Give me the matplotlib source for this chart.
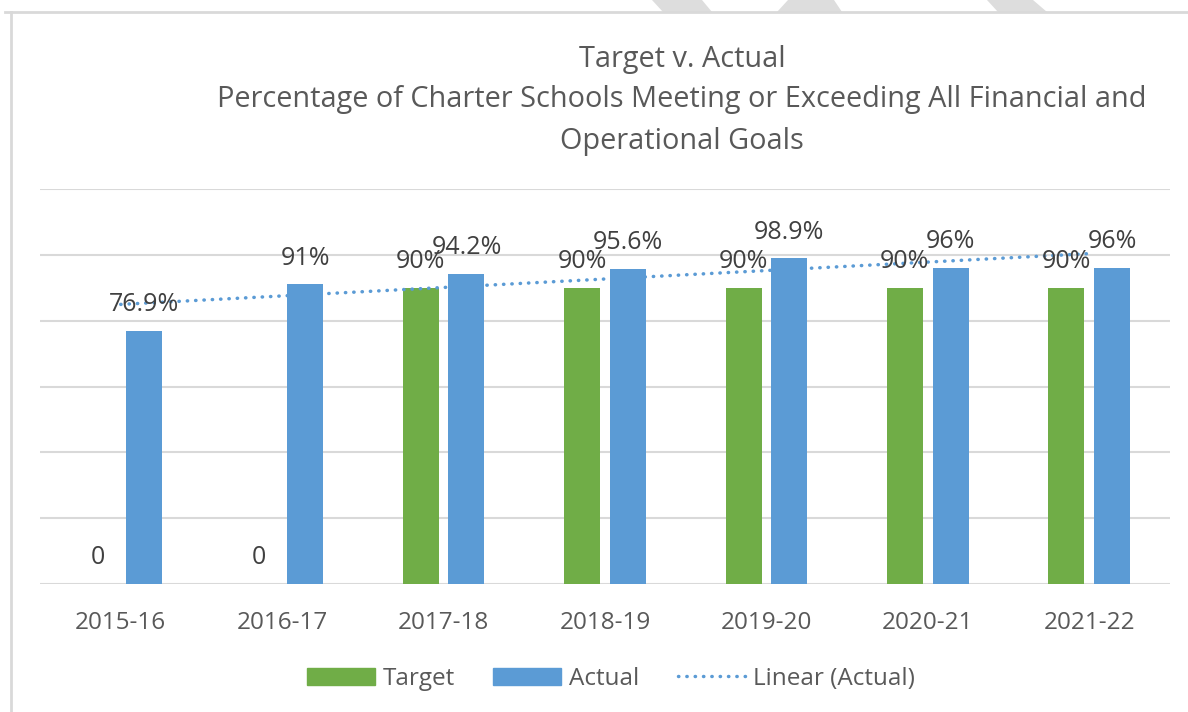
import numpy as np
import matplotlib.pyplot as plt
from matplotlib.patches import Patch, Polygon
from matplotlib.lines import Line2D

# chart data
years = ["2015-16", "2016-17", "2017-18", "2018-19", "2019-20", "2020-21", "2021-22"]
target = [0, 0, 90, 90, 90, 90, 90]
actual = [76.9, 91, 94.2, 95.6, 98.9, 96, 96]

GREEN = "#70AD47"
BLUE = "#5B9BD5"
GRID = "#D9D9D9"
TEXT = "#595959"
LABEL = "#404040"
DOTS = (0, (0.1, 2.3))

plt.rcParams["font.family"] = ["Open Sans", "DejaVu Sans"]

W, H = 1188, 712
fig = plt.figure(figsize=(W / 100, H / 100), dpi=100)
ax = fig.add_axes([40 / W, 128 / H, 1130 / W, 395 / H])

x = np.arange(len(years))
width = 0.223
off = 0.142

ax.bar(x - off, target, width, color=GREEN, zorder=2)
ax.bar(x + off, actual, width, color=BLUE, zorder=2)

# linear trend of actual values
coef = np.polyfit(x, actual, 1)
trend = np.polyval(coef, x)
ax.plot(x, trend, color=BLUE, lw=2.5, linestyle=DOTS,
        dash_capstyle="round", zorder=3)

# data labels
for xi, v in zip(x - off, target):
    lab = "0" if v == 0 else f"{v:g}%"
    ax.annotate(lab, (xi, v), xytext=(0, 19), textcoords="offset points",
                ha="center", va="center", fontsize=18, color=LABEL, zorder=4)
for xi, v in zip(x + off, actual):
    ax.annotate(f"{v:g}%", (xi, v), xytext=(0, 19), textcoords="offset points",
                ha="center", va="center", fontsize=18, color=LABEL, zorder=4)

ax.set_xlim(-0.5, 6.5)
ax.set_ylim(0, 120)
ax.set_yticks(np.arange(0, 121, 20))
ax.yaxis.grid(True, color=GRID, lw=1.5, zorder=0)
ax.tick_params(axis="y", left=False, labelleft=False)
ax.set_xticks(x)
ax.set_xticklabels(years, fontsize=17.5, color=TEXT)
ax.tick_params(axis="x", bottom=False, pad=16)
for s in ax.spines.values():
    s.set_visible(False)

# title
title_lines = ["Target v. Actual",
               "Percentage of Charter Schools Meeting or Exceeding All Financial and",
               "Operational Goals"]
for i, t in enumerate(title_lines):
    fig.text(682 / W, 1 - (59 + 41 * i) / H, t, ha="center", va="center",
             fontsize=20.8, color=TEXT)

# legend
handles = [Patch(color=GREEN), Patch(color=BLUE),
           Line2D([], [], color=BLUE, lw=2.5, linestyle=DOTS,
                  dash_capstyle="round")]
fig.legend(handles, ["Target", "Actual", "Linear (Actual)"], loc="center",
           bbox_to_anchor=(611 / W, 1 - 679 / H), ncol=3, frameon=False,
           fontsize=17.5, labelcolor=TEXT, handlelength=2.8, handleheight=0.75,
           handletextpad=0.3, columnspacing=1.6)

# chart frame
fig.add_artist(Line2D([5 / W, 1], [1 - 12 / H] * 2, color=GRID, lw=2))
fig.add_artist(Line2D([11 / W] * 2, [0, 1 - 12 / H], color=GRID, lw=2))

# watermark fragments above the frame
shapes = [[(652, 0), (702, 0), (712, 12), (663, 12)],
          [(788, 0), (834, 0), (842, 12), (777, 12)],
          [(987, 0), (1033, 0), (1047, 12), (998, 12)]]
for pts in shapes:
    fig.add_artist(Polygon([(px / W, 1 - py / H) for px, py in pts],
                           closed=True, transform=fig.transFigure,
                           facecolor="#DDDDDD", edgecolor="none"))

fig.savefig("out.png", dpi=100)
